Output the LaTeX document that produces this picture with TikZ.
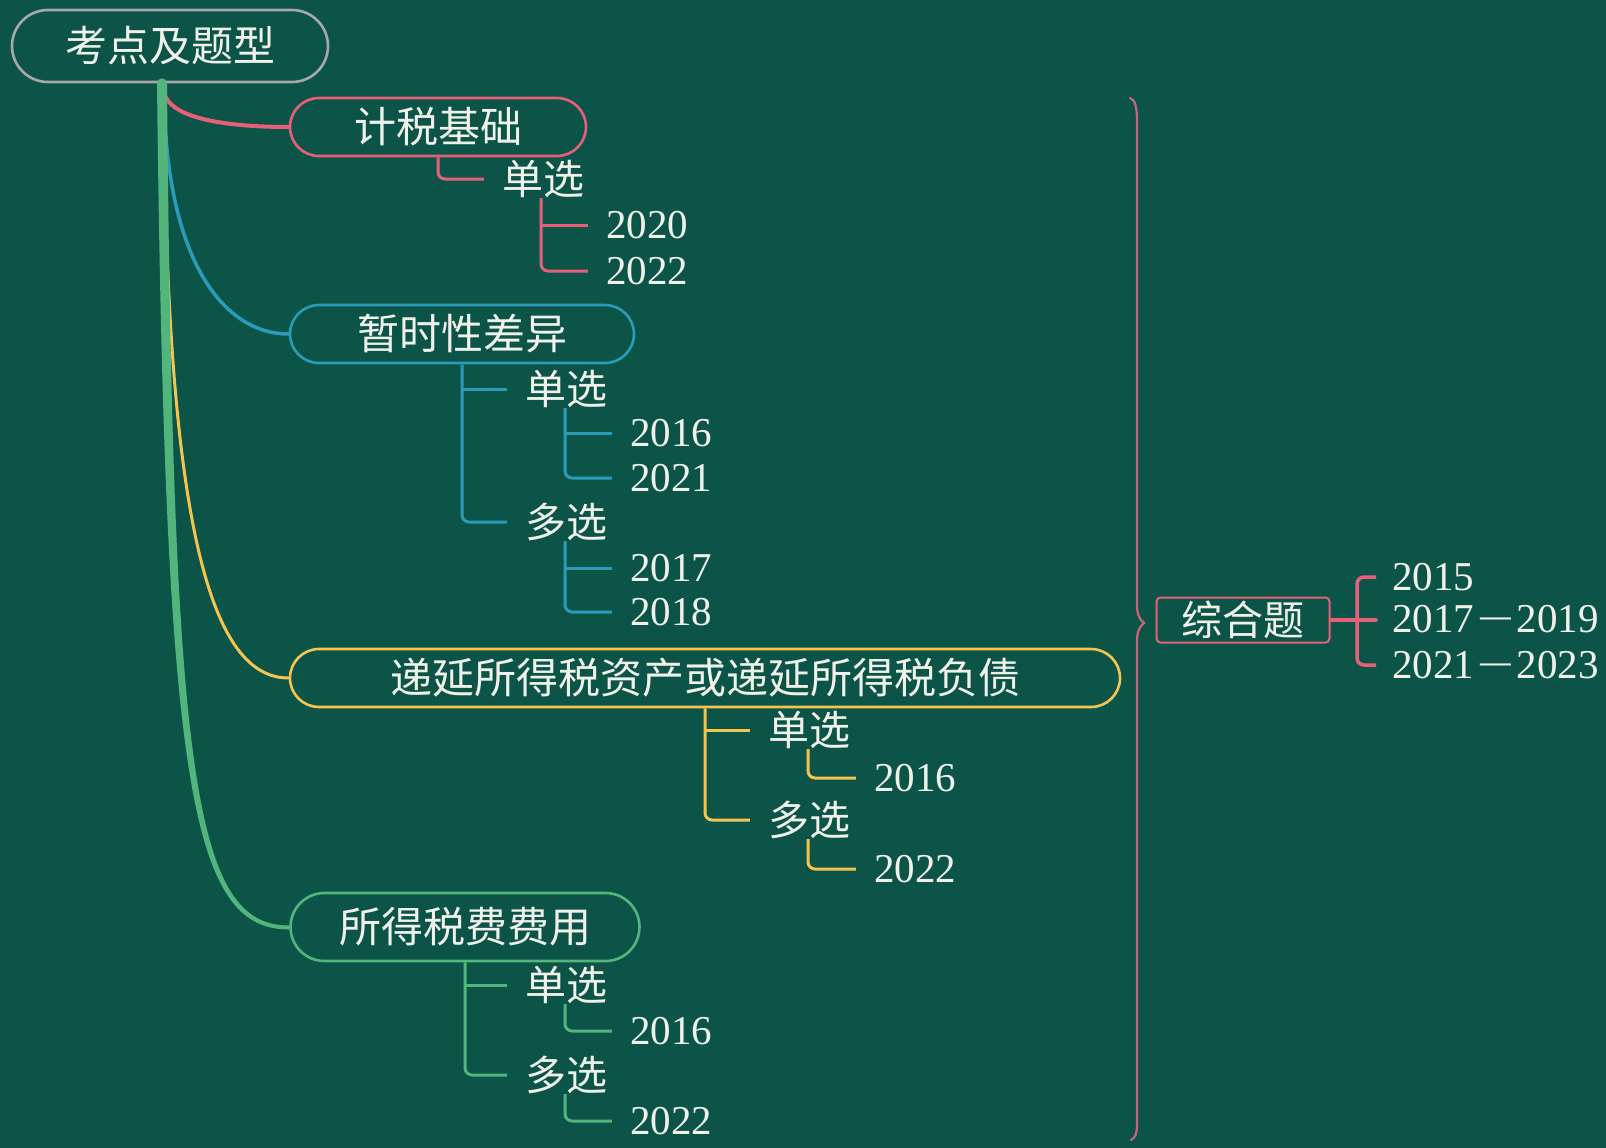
\documentclass[tikz,border=0pt]{standalone}
\usepackage{fontspec}
\setmainfont{Liberation Serif}
\newfontfamily\cjk{Noto Sans CJK SC}
\usetikzlibrary{calc}
\definecolor{bg}{HTML}{0D5448}
\definecolor{pinkc}{HTML}{E6607A}
\definecolor{tealc}{HTML}{2A9CBA}
\definecolor{yellc}{HTML}{F3C550}
\definecolor{greenc}{HTML}{52B67C}
\definecolor{greyc}{HTML}{A8A8A8}
\definecolor{txt}{HTML}{F0F2EA}
\definecolor{bracec}{HTML}{C8647A}
\tikzset{
 topic/.style={draw, line width=2.6pt, rounded corners=29pt, minimum height=58pt, inner sep=0pt, text=txt, font=\cjk\fontsize{42}{46}\selectfont},
 lbl/.style={text=txt, font=\cjk\fontsize{41}{46}\selectfont, inner xsep=18pt, inner ysep=0pt},
 yr/.style={text=txt, font=\fontsize{41}{46}\selectfont, inner xsep=18pt, inner ysep=0pt},
 sub/.style={line width=3pt, rounded corners=7pt},
 tee/.style={line width=3pt},
 branch/.style={line cap=round},
}
\newcommand{\yrdash}{\kern6pt\raisebox{4pt}{\scalebox{0.75}[1]{—}}\kern6pt}
\begin{document}
\begin{tikzpicture}[x=1pt,y=-1pt]
\fill[bg] (0,0) rectangle (1606,1148);
\useasboundingbox (0,0) rectangle (1606,1148);

% root and topics
\node[topic, draw=greyc, minimum width=316pt, minimum height=72pt, rounded corners=36pt] (root) at (170,46) {考点及题型};
\node[topic, draw=pinkc, minimum width=296pt] (pk) at (438,127) {计税基础};
\node[topic, draw=tealc, minimum width=344pt] (tl) at (462,334) {暂时性差异};
\node[topic, draw=yellc, minimum width=830pt] (yl) at (705,678) {递延所得税资产或递延所得税负债};
\node[topic, draw=greenc, minimum width=349pt, minimum height=68pt, rounded corners=34pt] (gr) at (465,927) {所得税费费用};

\coordinate (sp) at ($(root.south)+(-8,0)$);

% main branches
\draw[branch, pinkc, line width=4pt] ($(sp)+(2,8)$) .. controls ($(sp)+(6,36)$) and (230,127) .. (pk.west);
\draw[branch, tealc, line width=3.5pt] ($(sp)+(2,10)$) .. controls ($(sp)+(4,180)$) and (225,334) .. (tl.west);
\draw[branch, yellc, line width=3pt] ($(sp)+(2,10)$) .. controls ($(sp)+(4,480)$) and (220,678) .. (yl.west);
\fill[greenc] ($(sp)+(-5,0)$) .. controls ($(sp)+(3,700)$) and (190,929.5) .. ($(gr.west)+(0,2.5)$)
  -- ($(gr.west)+(0,-1.5)$) .. controls (195,925.5) and ($(sp)+(11,700)$) .. ($(sp)+(5,0)$) -- cycle;
\fill[greenc] (sp) circle (5pt);

% pink subtree
\node[lbl] (p1) at (543,179) {单选};
\node[yr] (p1a) at (647,225) {2020};
\node[yr] (p1b) at (647,271) {2022};
\draw[sub,pinkc] (pk.south) |- (p1.west);
\coordinate (p1s) at ($(p1.center)+(-2,19)$);
\draw[sub,pinkc] (p1s) |- (p1b.west);
\draw[tee,pinkc] (p1s |- p1a.west) -- (p1a.west);

% teal subtree
\node[lbl] (t1) at (566,389) {单选};
\node[yr] (t1a) at (671,433) {2016};
\node[yr] (t1b) at (671,478) {2021};
\node[lbl] (t2) at (566,522) {多选};
\node[yr] (t2a) at (671,568) {2017};
\node[yr] (t2b) at (671,612) {2018};
\draw[sub,tealc] (tl.south) |- (t2.west);
\draw[tee,tealc] (tl.south |- t1.west) -- (t1.west);
\coordinate (t1s) at ($(t1.center)+(-1,19)$);
\draw[sub,tealc] (t1s) |- (t1b.west);
\draw[tee,tealc] (t1s |- t1a.west) -- (t1a.west);
\coordinate (t2s) at ($(t2.center)+(-1,19)$);
\draw[sub,tealc] (t2s) |- (t2b.west);
\draw[tee,tealc] (t2s |- t2a.west) -- (t2a.west);

% yellow subtree
\node[lbl] (y1) at (809,730) {单选};
\node[yr] (y1a) at (915,778) {2016};
\node[lbl] (y2) at (809,820) {多选};
\node[yr] (y2a) at (915,869) {2022};
\draw[sub,yellc] (yl.south) |- (y2.west);
\draw[tee,yellc] (yl.south |- y1.west) -- (y1.west);
\coordinate (y1s) at ($(y1.center)+(-1,19)$);
\draw[sub,yellc] (y1s) |- (y1a.west);
\coordinate (y2s) at ($(y2.center)+(-1,19)$);
\draw[sub,yellc] (y2s) |- (y2a.west);

% green subtree
\node[lbl] (g1) at (566,985) {单选};
\node[yr] (g1a) at (671,1031) {2016};
\node[lbl] (g2) at (566,1075) {多选};
\node[yr] (g2a) at (671,1121) {2022};
\draw[sub,greenc] (gr.south) |- (g2.west);
\draw[tee,greenc] (gr.south |- g1.west) -- (g1.west);
\coordinate (g1s) at ($(g1.center)+(-1,19)$);
\draw[sub,greenc] (g1s) |- (g1a.west);
\coordinate (g2s) at ($(g2.center)+(-1,19)$);
\draw[sub,greenc] (g2s) |- (g2a.west);

% brace
\draw[bracec, line width=2.2pt, line cap=round] (1130,98) .. controls (1135,100) and (1137,106) .. (1137,122)
  -- (1137,604) .. controls (1137,614) and (1139,619) .. (1144,623)
  .. controls (1139,627) and (1137,632) .. (1137,642)
  -- (1137,1124) .. controls (1137,1134) and (1135,1138) .. (1131,1140);

% summary
\node[draw=pinkc, line width=2pt, rounded corners=4pt, minimum width=173pt, minimum height=45pt, inner sep=0pt, text=txt, font=\cjk\fontsize{41}{46}\selectfont] (zh) at (1243,620) {综合题};
\node[yr, anchor=west, inner xsep=16pt] (z1) at (1376,577) {2015};
\node[yr, anchor=west, inner xsep=16pt] (z2) at (1376,619) {2017\yrdash 2019};
\node[yr, anchor=west, inner xsep=16pt] (z3) at (1376,665) {2021\yrdash 2023};
\coordinate (zj) at (1357,619);
\draw[pinkc, line width=3.5pt, rounded corners=7pt] (z1.west) -| (zj) |- (z3.west);
\draw[pinkc, line width=3.5pt, line cap=round] (zh.east) -- (zh.east -| z2.west);
\end{tikzpicture}
\end{document}
